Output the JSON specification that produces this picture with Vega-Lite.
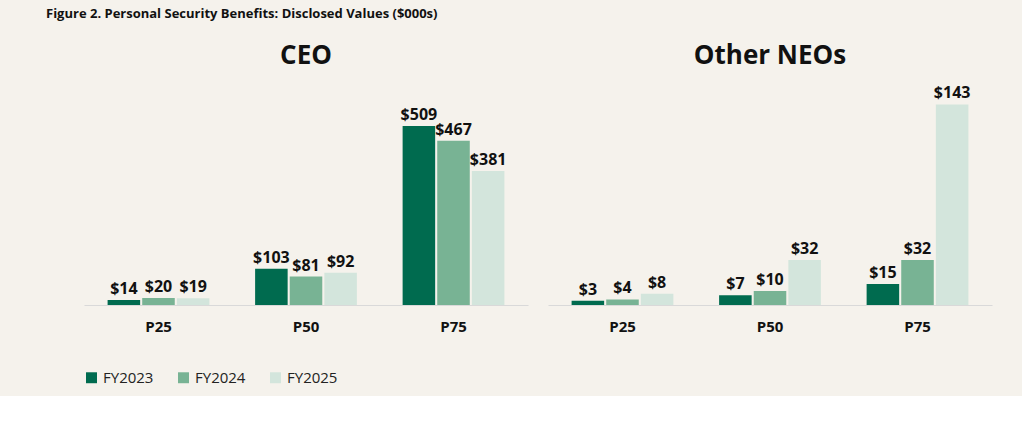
{
  "$schema": "https://vega.github.io/schema/vega-lite/v6.json",
  "background": "#F5F2EC",
  "padding": {"left": 46, "top": 8, "right": 30, "bottom": 10},
  "title": {"text": "Figure 2. Personal Security Benefits: Disclosed Values ($000s)", "anchor": "start", "font": "Open Sans", "fontSize": 13, "fontWeight": "bold", "color": "#111", "offset": 22, "dx": -38},
  "data": {"values": [
    {"panel": "CEO", "pct": "P25", "year": "FY2023", "v": 14},
    {"panel": "CEO", "pct": "P25", "year": "FY2024", "v": 20},
    {"panel": "CEO", "pct": "P25", "year": "FY2025", "v": 19},
    {"panel": "CEO", "pct": "P50", "year": "FY2023", "v": 103},
    {"panel": "CEO", "pct": "P50", "year": "FY2024", "v": 81},
    {"panel": "CEO", "pct": "P50", "year": "FY2025", "v": 92},
    {"panel": "CEO", "pct": "P75", "year": "FY2023", "v": 509},
    {"panel": "CEO", "pct": "P75", "year": "FY2024", "v": 467},
    {"panel": "CEO", "pct": "P75", "year": "FY2025", "v": 381},
    {"panel": "Other NEOs", "pct": "P25", "year": "FY2023", "v": 3},
    {"panel": "Other NEOs", "pct": "P25", "year": "FY2024", "v": 4},
    {"panel": "Other NEOs", "pct": "P25", "year": "FY2025", "v": 8},
    {"panel": "Other NEOs", "pct": "P50", "year": "FY2023", "v": 7},
    {"panel": "Other NEOs", "pct": "P50", "year": "FY2024", "v": 10},
    {"panel": "Other NEOs", "pct": "P50", "year": "FY2025", "v": 32},
    {"panel": "Other NEOs", "pct": "P75", "year": "FY2023", "v": 15},
    {"panel": "Other NEOs", "pct": "P75", "year": "FY2024", "v": 32},
    {"panel": "Other NEOs", "pct": "P75", "year": "FY2025", "v": 143}
  ]},
  "spacing": 20,
  "hconcat": [
    {
      "width": 444, "height": 230,
      "title": {"text": "CEO", "fontSize": 26, "fontWeight": "bold", "color": "#111", "offset": 6},
      "transform": [{"filter": "datum.panel === 'CEO'"}],
      "encoding": {
        "x": {"field": "pct", "type": "nominal", "title": null, "scale": {"paddingInner": 0.31, "paddingOuter": 0.16}, "axis": {"labelAngle": 0, "labelFontSize": 15, "labelFontWeight": "bold", "labelColor": "#111", "ticks": false, "domainColor": "#d9d9d9", "labelPadding": 14}},
        "xOffset": {"field": "year", "type": "nominal", "scale": {"paddingInner": 0.06}},
        "y": {"field": "v", "type": "quantitative", "scale": {"domain": [0, 654]}, "axis": null}
      },
      "layer": [
        {"mark": {"type": "bar"}, "encoding": {"color": {"field": "year", "type": "nominal", "title": null, "scale": {"range": ["#006B4F", "#78B394", "#D3E5DC"]}}}},
        {"mark": {"type": "text", "dy": -11, "fontSize": 16, "fontWeight": "bold", "color": "#111"}, "encoding": {"text": {"field": "v", "type": "quantitative", "format": "$,d"}}}
      ]
    },
    {
      "width": 444, "height": 230,
      "title": {"text": "Other NEOs", "fontSize": 26, "fontWeight": "bold", "color": "#111", "offset": 6},
      "transform": [{"filter": "datum.panel === 'Other NEOs'"}],
      "encoding": {
        "x": {"field": "pct", "type": "nominal", "title": null, "scale": {"paddingInner": 0.31, "paddingOuter": 0.16}, "axis": {"labelAngle": 0, "labelFontSize": 15, "labelFontWeight": "bold", "labelColor": "#111", "ticks": false, "domainColor": "#d9d9d9", "labelPadding": 14}},
        "xOffset": {"field": "year", "type": "nominal", "scale": {"paddingInner": 0.06}},
        "y": {"field": "v", "type": "quantitative", "scale": {"domain": [0, 164]}, "axis": null}
      },
      "layer": [
        {"mark": {"type": "bar"}, "encoding": {"color": {"field": "year", "type": "nominal", "title": null, "scale": {"range": ["#006B4F", "#78B394", "#D3E5DC"]}}}},
        {"mark": {"type": "text", "dy": -11, "fontSize": 16, "fontWeight": "bold", "color": "#111"}, "encoding": {"text": {"field": "v", "type": "quantitative", "format": "$,d"}}}
      ]
    }
  ],
  "resolve": {"scale": {"y": "independent"}},
  "config": {"view": {"stroke": null}, "font": "Open Sans", "legend": {"orient": "bottom", "direction": "horizontal", "labelFontSize": 15, "labelColor": "#222", "symbolType": "square", "symbolSize": 120, "columnPadding": 22, "offset": 36}}
}
